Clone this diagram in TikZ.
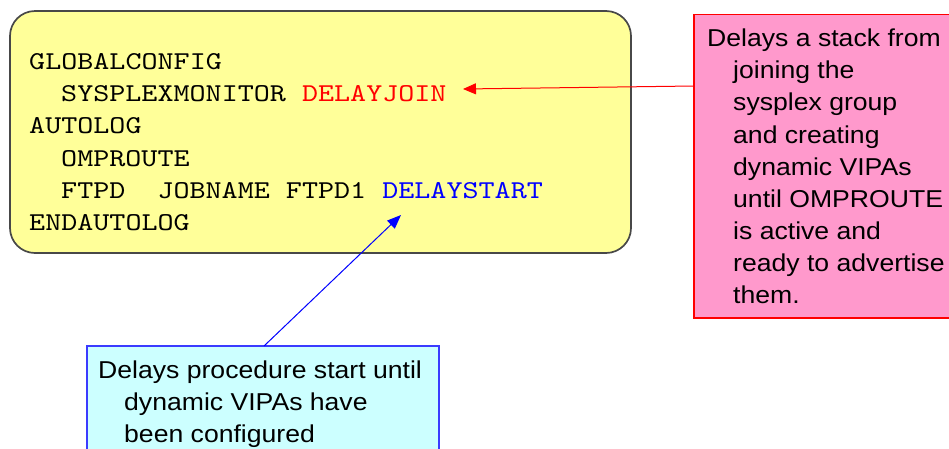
\documentclass[tikz,border=0pt]{standalone}
\usepackage{fontspec}
\setmainfont{Liberation Sans}[FakeStretch=1.09]
\newfontfamily\codefont{lmmono10-regular.otf}[FakeStretch=1.19]
\usetikzlibrary{arrows.meta}

\definecolor{cfgyellow}{HTML}{FFFF99}
\definecolor{cfgborder}{HTML}{484848}
\definecolor{notepink}{HTML}{FF99CC}
\definecolor{notecyan}{HTML}{CCFFFF}
\definecolor{cyanborder}{HTML}{3B3BFF}
\definecolor{kwred}{HTML}{FF0000}
\definecolor{kwblue}{HTML}{0000FF}

\tikzset{
  panel/.style={anchor=north west, inner sep=0pt, outer sep=0pt},
  cfgbox/.style={panel, draw=cfgborder, line width=1.7pt, fill=cfgyellow, rounded corners=25pt},
  pinkbox/.style={panel, draw=kwred, line width=1.1pt, fill=notepink},
  cyanbox/.style={panel, draw=cyanborder, line width=1.1pt, fill=notecyan},
  codeline/.style={anchor=base west, inner sep=0pt, font=\codefont\fontsize{25.7pt}{32pt}\selectfont},
  % multi-line text: the base anchor sits on the last line
  notetext/.style={anchor=base west, inner sep=0pt, align=left, font=\fontsize{24.4pt}{32.1pt}\selectfont},
  redlink/.style={draw=kwred, line width=1pt, -{Triangle[length=13pt,width=11pt]}},
  bluelink/.style={draw=kwblue, line width=1pt, -{Triangle[length=14pt,width=11pt]}}
}

\begin{document}
\begin{tikzpicture}[x=1pt,y=-1pt]
  \clip (0,0) rectangle (949,448);
  \fill[white] (0,0) rectangle (949,448);

  % configuration panel
  \node[cfgbox, minimum width=621pt, minimum height=242pt] (cfg) at (10,11) {};
  \node[codeline] (l1) at (29,69)    {GLOBALCONFIG};
  \node[codeline] (l2) at (61,101.4) {SYSPLEXMONITOR \textcolor{kwred}{DELAYJOIN}};
  \node[codeline] (l3) at (29,133.7) {AUTOLOG};
  \node[codeline] (l4) at (61,166)   {OMPROUTE};
  \node[codeline] (l5) at (61,198.4) {FTPD~~JOBNAME~FTPD1~\textcolor{kwblue}{DELAYSTART}};
  \node[codeline] (l6) at (29,230.7) {ENDAUTOLOG};

  % note on DELAYJOIN
  \node[pinkbox, minimum width=280pt, minimum height=303.3pt] (joinnote) at (694,14.7) {};
  \node[notetext] (jointext) at (707,303.5) {Delays a stack from\\
    \hspace*{26pt}joining the\\
    \hspace*{26pt}sysplex group\\
    \hspace*{26pt}and creating\\
    \hspace*{26pt}dynamic VIPAs\\
    \hspace*{26pt}until OMPROUTE\\
    \hspace*{26pt}is active and\\
    \hspace*{26pt}ready to advertise\\
    \hspace*{26pt}them.};

  % note on DELAYSTART
  \node[cyanbox, minimum width=352pt, minimum height=130pt] (startnote) at (87,346) {};
  \node[notetext] (starttext) at (98,442.2) {Delays procedure start until\\
    \hspace*{26pt}dynamic VIPAs have\\
    \hspace*{26pt}been configured};

  % pointers
  \coordinate (jointip) at (463,89);
  \coordinate (starttip) at (401,215);
  \draw[redlink] ([yshift=-71.3pt]joinnote.north west) -- (jointip);
  \draw[bluelink] ([xshift=177pt]startnote.north west) -- (starttip);
\end{tikzpicture}
\end{document}
